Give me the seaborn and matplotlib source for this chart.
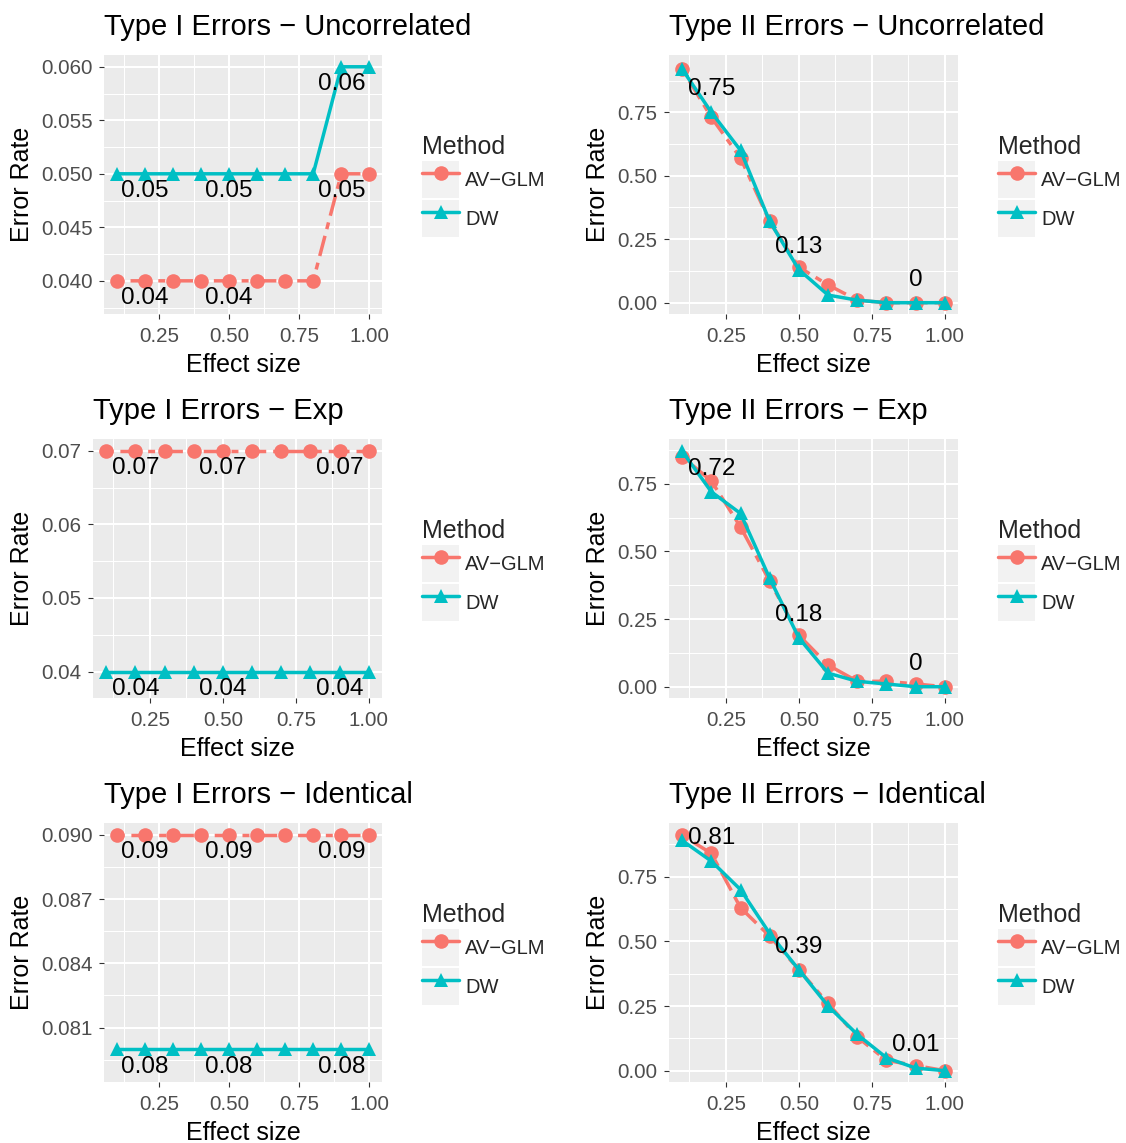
import matplotlib
matplotlib.use("Agg")
import matplotlib.pyplot as plt
import numpy as np
import pandas as pd
import seaborn as sns
from matplotlib.ticker import FixedLocator, FuncFormatter
from matplotlib.legend_handler import HandlerLine2D
from matplotlib.patches import Rectangle

# ---------------- data ----------------
effect_size = [0.1, 0.2, 0.3, 0.4, 0.5, 0.6, 0.7, 0.8, 0.9, 1.0]
methods = ["AV\u2212GLM", "DW"]

t1_unc_avglm = [0.04, 0.04, 0.04, 0.04, 0.04, 0.04, 0.04, 0.04, 0.05, 0.05]
t1_unc_dw = [0.05, 0.05, 0.05, 0.05, 0.05, 0.05, 0.05, 0.05, 0.06, 0.06]
t1_exp_avglm = [0.07, 0.07, 0.07, 0.07, 0.07, 0.07, 0.07, 0.07, 0.07, 0.07]
t1_exp_dw = [0.04, 0.04, 0.04, 0.04, 0.04, 0.04, 0.04, 0.04, 0.04, 0.04]
t1_ide_avglm = [0.09, 0.09, 0.09, 0.09, 0.09, 0.09, 0.09, 0.09, 0.09, 0.09]
t1_ide_dw = [0.08, 0.08, 0.08, 0.08, 0.08, 0.08, 0.08, 0.08, 0.08, 0.08]

t2_unc_avglm = [0.92, 0.73, 0.57, 0.32, 0.14, 0.07, 0.01, 0.00, 0.00, 0.00]
t2_unc_dw = [0.92, 0.75, 0.60, 0.32, 0.13, 0.03, 0.01, 0.00, 0.00, 0.00]
t2_exp_avglm = [0.85, 0.76, 0.59, 0.39, 0.19, 0.08, 0.02, 0.02, 0.01, 0.00]
t2_exp_dw = [0.87, 0.72, 0.64, 0.40, 0.18, 0.05, 0.02, 0.01, 0.00, 0.00]
t2_ide_avglm = [0.91, 0.84, 0.63, 0.52, 0.39, 0.26, 0.13, 0.04, 0.02, 0.00]
t2_ide_dw = [0.89, 0.81, 0.70, 0.53, 0.39, 0.25, 0.14, 0.05, 0.01, 0.00]

label_x = [0.2, 0.5, 0.9]

titles = ["Type I Errors \u2212 Uncorrelated", "Type II Errors \u2212 Uncorrelated",
          "Type I Errors \u2212 Exp", "Type II Errors \u2212 Exp",
          "Type I Errors \u2212 Identical", "Type II Errors \u2212 Identical"]

x_ticks = [0.25, 0.50, 0.75, 1.00]
t1_unc_yticks = [0.040, 0.045, 0.050, 0.055, 0.060]
t1_exp_yticks = [0.04, 0.05, 0.06, 0.07]
t1_ide_yticks = [0.081, 0.084, 0.087, 0.090]
t2_yticks = [0.00, 0.25, 0.50, 0.75]

# ---------------- style ----------------
sns.set_style("darkgrid", {"axes.facecolor": "#EBEBEB", "grid.color": "white"})
plt.rcParams["font.family"] = ["Liberation Sans", "DejaVu Sans"]

W, H = 1126, 1143
fig = plt.figure(figsize=(W / 100, H / 100), dpi=100)
fig.patch.set_facecolor("white")

palette = {methods[0]: "#F8766D", methods[1]: "#00BFC4"}
markers = {methods[0]: "o", methods[1]: "^"}
dashes = {methods[0]: (2, 2, 6, 2), methods[1]: ""}


class KeyHandler(HandlerLine2D):
    def create_artists(self, legend, orig_handle, xdescent, ydescent, width, height, fontsize, trans):
        arts = super().create_artists(legend, orig_handle, xdescent, ydescent, width, height, fontsize, trans)
        r = Rectangle((-xdescent, -ydescent), width, height, facecolor="#F2F2F2",
                      edgecolor="none", transform=trans)
        return [r] + list(arts)


def box(left, right, top, bottom):
    return [left / W, 1 - bottom / H, (right - left) / W, (bottom - top) / H]


panels = [
    dict(title=titles[0], av=t1_unc_avglm, dw=t1_unc_dw, kind=1, px=(104, 382, 55, 314),
         ylim=(0.0369, 0.0611), yt=t1_unc_yticks, fmt="{:.3f}", legx=422),
    dict(title=titles[1], av=t2_unc_avglm, dw=t2_unc_dw, kind=2, px=(669, 958, 55, 314),
         ylim=(-0.0445, 0.9756), yt=t2_yticks, fmt="{:.2f}", legx=998),
    dict(title=titles[2], av=t1_exp_avglm, dw=t1_exp_dw, kind=1, px=(93, 382, 439, 698),
         ylim=(0.0364, 0.0716), yt=t1_exp_yticks, fmt="{:.2f}", legx=422),
    dict(title=titles[3], av=t2_exp_avglm, dw=t2_exp_dw, kind=2, px=(669, 958, 439, 698),
         ylim=(-0.0417, 0.915), yt=t2_yticks, fmt="{:.2f}", legx=998),
    dict(title=titles[4], av=t1_ide_avglm, dw=t1_ide_dw, kind=1, px=(104, 382, 823, 1082),
         ylim=(0.07846, 0.09055), yt=t1_ide_yticks, fmt="{:.3f}", legx=422),
    dict(title=titles[5], av=t2_ide_avglm, dw=t2_ide_dw, kind=2, px=(669, 958, 823, 1082),
         ylim=(-0.0437, 0.9575), yt=t2_yticks, fmt="{:.2f}", legx=998),
]

PX = 0.72  # points per pixel at dpi 100

for p in panels:
    l, r, t, b = p["px"]
    ax = fig.add_axes(box(l, r, t, b))
    df = pd.DataFrame({
        "Effect size": effect_size * 2,
        "Error Rate": list(p["av"]) + list(p["dw"]),
        "Method": [methods[0]] * len(effect_size) + [methods[1]] * len(effect_size),
    })
    sns.lineplot(data=df, x="Effect size", y="Error Rate", hue="Method", style="Method",
                 hue_order=methods, style_order=methods, palette=palette,
                 markers=markers, dashes=dashes, linewidth=2.5, markersize=10.5,
                 markeredgewidth=0, ax=ax, legend=True, zorder=3)

    # value labels
    if p["kind"] == 1:
        series = [p["av"], p["dw"]]
        off = -17.5 * PX
    else:
        series = [p["dw"]]
        off = 23 * PX
    for s in series:
        for xv in label_x:
            i = effect_size.index(xv)
            v = round(s[i], 2)
            txt = "{:g}".format(v)
            ax.annotate(txt, xy=(xv, v), xytext=(0, off), textcoords="offset points",
                        ha="center", va="center", fontsize=17.5, color="black", zorder=5)

    ax.set_xlim(0.055, 1.045)
    ax.set_ylim(*p["ylim"])
    ax.xaxis.set_major_locator(FixedLocator(x_ticks))
    ax.xaxis.set_minor_locator(FixedLocator([0.125, 0.375, 0.625, 0.875]))
    ax.xaxis.set_major_formatter(FuncFormatter(lambda v, pos: "{:.2f}".format(v)))
    yt = p["yt"]
    step = yt[1] - yt[0]
    yminor = [yt[0] - step / 2] + [a + step / 2 for a in yt]
    ax.yaxis.set_major_locator(FixedLocator(yt))
    ax.yaxis.set_minor_locator(FixedLocator(yminor))
    fmt = p["fmt"]
    ax.yaxis.set_major_formatter(FuncFormatter(lambda v, pos, fmt=fmt: fmt.format(v)))

    ax.set_facecolor("#EBEBEB")
    for sp in ax.spines.values():
        sp.set_visible(False)
    ax.grid(which="major", color="white", linewidth=1.5)
    ax.grid(which="minor", color="white", linewidth=0.75)
    ax.set_axisbelow(True)
    ax.tick_params(which="major", length=3.6, width=0.8, color="#333333",
                   labelsize=14.8, labelcolor="#4D4D4D", bottom=True, left=True)
    ax.tick_params(axis="x", which="major", pad=5.5)
    ax.tick_params(axis="y", which="major", pad=4.5)
    ax.tick_params(which="minor", length=0)

    ax.set_title(p["title"], loc="left", fontsize=21, pad=14.5, color="black")
    ax.set_xlabel("Effect size", fontsize=18, color="black")
    ax.set_ylabel("Error Rate", fontsize=18, color="black")
    wpx = r - l
    hpx = b - t
    ylab_px = 34 if p["legx"] == 422 else 610
    ax.yaxis.set_label_coords((ylab_px - l) / wpx, 0.5)
    ax.xaxis.set_label_coords(0.5, -39.0 / hpx)

    # legend
    old = ax.get_legend()
    handles = list(old.legend_handles)
    labels = [tt.get_text() for tt in old.get_texts()]
    old.remove()
    for h in handles:
        h.set_linestyle("-")
    cy = 1 - ((t + b) / 2 + 1.5) / H
    leg = ax.legend(handles, labels, title="Method", loc="center left",
                    bbox_to_anchor=(p["legx"] / W, cy), bbox_transform=fig.transFigure,
                    frameon=False, fontsize=14.5, title_fontsize=18, alignment="left",
                    handlelength=1.85, handleheight=2.45, labelspacing=0.1,
                    handletextpad=0.3, borderpad=0, borderaxespad=0,
                    handler_map={type(handles[0]): KeyHandler()})

fig.savefig("out.png", dpi=100, facecolor="white")
